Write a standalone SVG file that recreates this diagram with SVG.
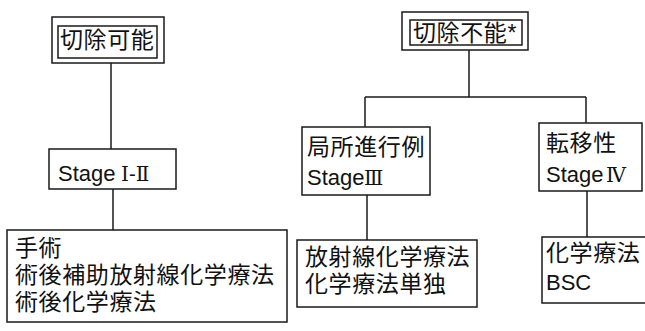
<svg xmlns="http://www.w3.org/2000/svg" width="645" height="331" viewBox="0 0 645 331">
<style>
.box{fill:#fff;stroke:#1a1a1a;stroke-width:1.5}
.ln{fill:none;stroke:#1a1a1a;stroke-width:1.5}
text{font-family:"Liberation Sans","Noto Sans CJK JP",sans-serif;font-size:23px;fill:#111}
.j{letter-spacing:0.6px}
.l{font-size:22px}
.r{font-family:"DejaVu Serif","Liberation Serif",serif;font-size:20px}
</style>
<rect width="645" height="331" fill="#fff"/>
<g id="connectors">
<path class="ln" d="M111 63V149"/>
<path class="ln" d="M113 189V230"/>
<path class="ln" d="M469 50V97M365 97H586M365 97V127M586 97V123"/>
<path class="ln" d="M367 195V240"/>
<path class="ln" d="M587 191V237"/>
</g>
<g id="resectable">
<rect class="box" x="52" y="17" width="112" height="46"/>
<rect class="box" x="58" y="26" width="99" height="32"/>
<text class="j" x="60" y="48">切除可能</text>
</g>
<g id="stage12">
<rect class="box" x="49" y="149" width="127" height="40"/>
<text class="l" x="58" y="181">Stage <tspan class="r" x="121">Ⅰ-Ⅱ</tspan></text>
</g>
<g id="surgery">
<rect class="box" x="7" y="230" width="280" height="92"/>
<text class="j" x="15" y="256">手術</text>
<text class="j" x="15" y="283">術後補助放射線化学療法</text>
<text class="j" x="15" y="310">術後化学療法</text>
</g>
<g id="unresectable">
<rect class="box" x="402" y="12" width="126" height="38"/>
<rect class="box" x="410" y="20" width="112" height="25"/>
<text class="j" x="413" y="41">切除不能*</text>
</g>
<g id="local">
<rect class="box" x="302" y="127" width="128" height="68"/>
<text class="j" x="307" y="155">局所進行例</text>
<text class="l" x="307" y="185">Stage<tspan class="r" x="364">Ⅲ</tspan></text>
</g>
<g id="metastatic">
<rect class="box" x="539" y="123" width="103" height="68"/>
<text class="j" x="546" y="151">転移性</text>
<text class="l" x="546" y="182">Stage<tspan class="r" x="606">Ⅳ</tspan></text>
</g>
<g id="crt">
<rect class="box" x="297" y="240" width="180" height="67"/>
<text class="j" x="305" y="265">放射線化学療法</text>
<text class="j" x="305" y="292">化学療法単独</text>
</g>
<g id="chemo">
<rect class="box" x="542" y="237" width="110" height="66"/>
<text class="j" x="546" y="261">化学療法</text>
<text class="l" x="546" y="290">BSC</text>
</g>
</svg>
